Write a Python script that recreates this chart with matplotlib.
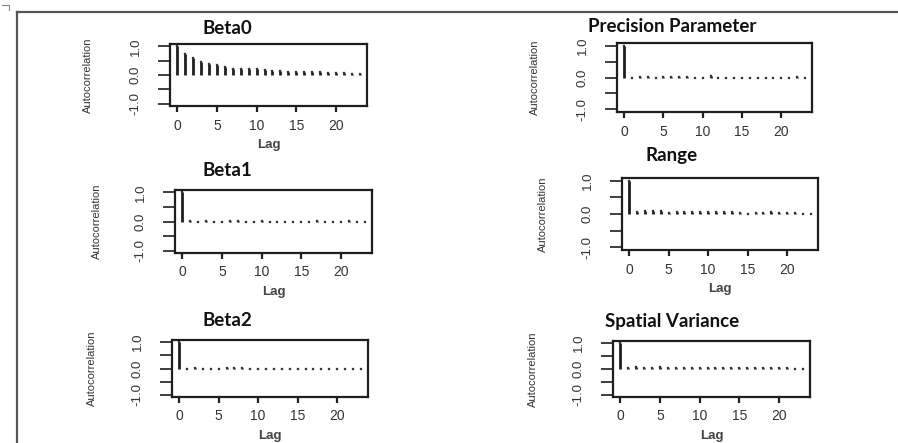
import matplotlib
matplotlib.use("Agg")
import matplotlib.pyplot as plt
from matplotlib.lines import Line2D
import numpy as np

lags = list(range(24))

acf_beta0 = [1.00, 0.72, 0.60, 0.46, 0.39, 0.34, 0.27, 0.22, 0.20, 0.20, 0.20, 0.16,
             0.14, 0.14, 0.12, 0.11, 0.11, 0.10, 0.10, 0.08, 0.07, 0.06, 0.05, 0.04]
acf_precision = [1.00, 0.00, 0.03, 0.03, -0.01, 0.01, 0.03, 0.01, 0.03, -0.01, 0.00, 0.04,
                 -0.01, 0.00, -0.01, -0.01, 0.00, -0.01, 0.00, 0.00, 0.00, 0.00, 0.03, -0.01]
acf_beta1 = [1.00, 0.02, -0.02, 0.01, -0.01, -0.01, 0.02, 0.02, -0.01, 0.00, 0.03, -0.02,
             -0.03, -0.02, 0.00, -0.01, 0.00, 0.02, -0.02, -0.03, -0.02, 0.02, -0.01, -0.01]
acf_range = [1.00, 0.05, 0.08, 0.08, 0.09, 0.04, 0.06, 0.05, 0.05, 0.07, 0.07, 0.05,
             0.06, 0.07, 0.04, 0.01, 0.04, 0.04, 0.07, 0.04, 0.03, 0.03, 0.01, 0.01]
acf_beta2 = [1.00, 0.00, 0.02, -0.02, 0.00, -0.01, 0.02, 0.01, 0.03, -0.01, -0.01, -0.01,
             0.00, 0.00, 0.00, 0.00, 0.00, -0.01, -0.01, -0.01, 0.00, 0.00, -0.01, -0.01]
acf_spatial = [1.00, 0.03, 0.06, 0.05, 0.04, 0.06, 0.05, 0.05, 0.04, 0.04, 0.04, 0.03,
               0.03, 0.03, 0.03, 0.03, 0.03, 0.03, 0.02, 0.03, 0.02, 0.02, 0.01, 0.01]

titles = ["Beta0", "Precision Parameter", "Beta1", "Range", "Beta2", "Spatial Variance"]
series = [acf_beta0, acf_precision, acf_beta1, acf_range, acf_beta2, acf_spatial]
xticks = [0, 5, 10, 15, 20]
yticks = [-1.0, -0.5, 0.0, 0.5, 1.0]
ytick_labels = ["-1.0", "", "0.0", "", "1.0"]
xlabel = "Lag"
ylabel = "Autocorrelation"

W, H = 898, 443
# panel layout in pixels: (left, top, right, bottom)
boxes = [(170, 44, 367, 106), (617, 43, 812, 112),
         (175, 190, 372, 253), (622, 178, 818, 250),
         (172, 340, 368, 397), (613, 341, 810, 397)]
title_pos = [(227, 28), (672, 27), (227, 170), (672, 155), (227, 320), (672, 322)]
ylabel_x = [88, 535, 97, 543, 92, 533]
show_xlabel = [True, False, True, True, True, True]

ink = "#1e1e1e"
fig = plt.figure(figsize=(W / 100, H / 100), dpi=100)
fig.patch.set_facecolor("white")

# document frame lines
fig.add_artist(Line2D([17 / W, 1.0], [1 - 12 / H, 1 - 12 / H], color="#555555", lw=1.6))
fig.add_artist(Line2D([17 / W, 17 / W], [1 - 12 / H, 0.0], color="#555555", lw=1.6))
fig.add_artist(Line2D([2 / W, 9 / W, 9 / W], [1 - 5 / H, 1 - 5 / H, 1 - 10 / H], color="#888888", lw=0.8))

tick_font = ["Liberation Sans", "DejaVu Sans"]
for i, (vals, title) in enumerate(zip(series, titles)):
    l, t, r, b = boxes[i]
    ax = fig.add_axes([l / W, 1 - b / H, (r - l) / W, (b - t) / H])
    ax.vlines(lags, 0, vals, colors=ink, linewidth=2.0)
    ax.plot(lags, vals, linestyle="none", marker="s", markersize=1.6,
            markerfacecolor="#333333", markeredgecolor="#333333", markeredgewidth=0.2)
    ax.set_xlim(-0.92, 23.92)
    ax.set_ylim(-1.08, 1.08)
    ax.set_xticks(xticks)
    ax.set_xticklabels([str(v) for v in xticks], fontsize=10, family=tick_font)
    ax.set_yticks(yticks)
    ax.set_yticklabels(ytick_labels, fontsize=9.5, family=tick_font, rotation=90,
                       va="center")
    ax.tick_params(axis="x", direction="out", length=4, width=1.6, pad=5, colors=ink,
                   labelcolor="#333333")
    ax.tick_params(axis="y", direction="out", length=8.5, width=1.2, pad=12, colors=ink,
                   labelcolor="#333333")
    for s in ax.spines.values():
        s.set_linewidth(1.6)
        s.set_color(ink)
    # title
    tx, ty = title_pos[i]
    fig.text(tx / W, 1 - ty / H, title, ha="center", va="center", fontsize=13.5,
             fontweight="bold", family=["Lato", "DejaVu Sans"], color="#111111")
    # y label
    fig.text(ylabel_x[i] / W, 1 - ((t + b) / 2) / H, ylabel, rotation=90, ha="center",
             va="center", fontsize=8, family=["Liberation Sans Narrow", "Liberation Sans"],
             color="#333333")
    if show_xlabel[i]:
        ax.set_xlabel(xlabel, fontsize=9.5, family=tick_font, fontweight="bold",
                      color="#444444", labelpad=5)

fig.savefig("out.png", dpi=100, facecolor="white")
